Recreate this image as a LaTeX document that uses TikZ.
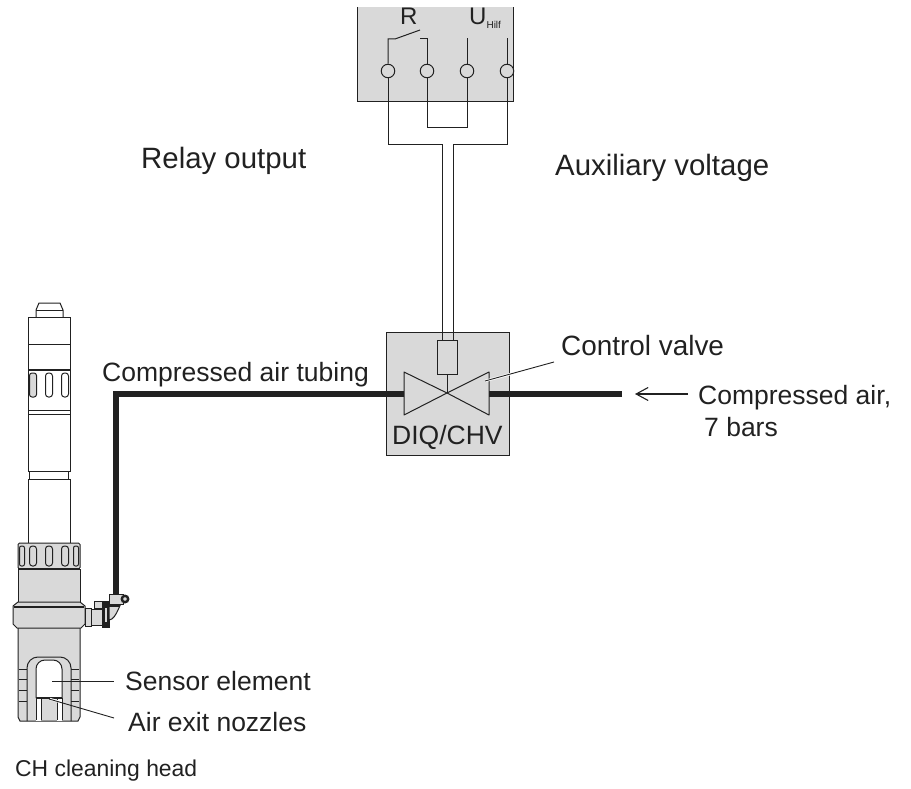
\documentclass[tikz,border=0pt]{standalone}
\usepackage{fontspec}
\setmainfont{Liberation Sans}
\usetikzlibrary{arrows.meta, positioning, calc}
\definecolor{boxgray}{gray}{0.85}
\definecolor{inkgray}{gray}{0.13}
\tikzset{
    label/.style={inner sep=0pt, anchor=base west, font=\fontsize{26.5}{30}\selectfont, text=inkgray},
    biglabel/.style={label, font=\fontsize{29.4}{33}\selectfont},
    wire/.style={draw=inkgray, line width=1pt},
    tube/.style={draw=inkgray, line width=6.5pt},
    part/.style={draw=inkgray, line width=1pt},
    grayed/.style={part, fill=boxgray},
    terminal/.style={circle, draw=inkgray, line width=1pt, fill=boxgray, minimum size=13.5pt, inner sep=0pt},
    leader/.style={draw=inkgray, line width=0.9pt}
}
\begin{document}
\begin{tikzpicture}[x=1pt, y=-1pt]
    \useasboundingbox (0,0) rectangle (911,789);
    % Relay box
    \fill[boxgray] (357,7) rectangle (513,102);
    \draw[part] (357,7) -- (357,102) -- (513,102) -- (513,7);
    \node[terminal] (t1) at (388,71) {};
    \node[terminal] (t2) at (427,71) {};
    \node[terminal] (t3) at (467,71) {};
    \node[terminal] (t4) at (507,71) {};
    \node[label, font=\fontsize{24}{28}\selectfont] (relay) at (400,25) {R};
    \node[label, font=\fontsize{24}{28}\selectfont] (uhilf) at (469,25) {U\raisebox{-4pt}{\fontsize{10}{11}\selectfont Hilf}};
    % Contacts
    \draw[wire] (t1) -- (388,39) -- (395,39) -- (420,30);
    \draw[wire] (t2) -- (427,39) -- (420,39);
    \draw[wire] (t3) -- (467,38);
    \draw[wire] (t4) -- (507,38);
    % Valve box
    \node[draw=inkgray, line width=1pt, fill=boxgray, minimum width=123pt, minimum height=123pt, inner sep=0pt] (valvebox) at (447.5,393.5) {};
    \node[draw=inkgray, line width=1pt, minimum width=20pt, minimum height=34pt, inner sep=0pt] (coil) at (447,357) {};
    \coordinate (valvemid) at (447,393);
    \draw[part, line join=round] (valvemid) -- (404,372) -- (404,415) -- cycle;
    \draw[part, line join=round] (valvemid) -- (489,372) -- (489,415) -- cycle;
    \draw[wire] (coil) -- (valvemid);
    \node[label] (chv) at (392,444) {DIQ/CHV};
    % Wires between boxes
    \draw[wire] (t1) -- (388,145) -- (442,145) -- (442,340);
    \draw[wire] (t4) -- (507,145) -- (453,145) -- (453,340);
    \draw[wire] (t2) -- (427,128) -- (467,128) -- (t3);
    % Air tubing
    \draw[tube] (622,394) -- (489,394);
    \draw[tube] (404,394) -- (116,394) -- (116,596);
    % Sensor shaft
    \draw[part] (36,317) -- (36,310) -- (39,303) -- (60,303) -- (63,310) -- (63,317);
    \draw[part] (36,310) -- (63,310);
    \draw[part] (28,317) rectangle (70,471);
    \draw[part] (29.5,471) rectangle (68.5,479);
    \draw[part] (28,479) rectangle (70,543);
    \draw[part] (28,344) -- (70,344);
    \draw[part, line width=1.6pt] (28,370) -- (70,370);
    \foreach \ox in {49,65} {
        \draw[part, rounded corners=3pt] (\ox-3.5,373) rectangle (\ox+3.5,397);
    }
    \draw[grayed, rounded corners=2.5pt] (29.5,373) rectangle (36.5,397);
    \draw[part] (28,410) -- (70,410);
    \draw[part] (28,414) -- (70,414);
    % Sensor head
    \draw[grayed, rounded corners=1.5pt] (18,543) rectangle (80,569);
    \foreach \ox in {33,49,65} {
        \draw[part, rounded corners=3pt] (\ox-3.5,546) rectangle (\ox+3.5,566);
    }
    \draw[part, rounded corners=2pt] (19.5,546) rectangle (24.5,566);
    \draw[part, rounded corners=2pt] (73.5,546) rectangle (78.5,566);
    \draw[grayed] (18,569) rectangle (80,602);
    \draw[part, line width=1.6pt] (18,569) -- (80,569);
    \draw[grayed] (18,628) -- (18,717) -- (20,721) -- (78,721) -- (80,717) -- (80,628);
    \draw[grayed] (18,602) -- (80,602) -- (85,606) -- (85,624) -- (81,628) -- (17,628) -- (13,624) -- (13,606) -- cycle;
    \draw[part, line width=1.4pt] (14,607) -- (84,607);
    % Fork
    \foreach \oy in {669,679,690,701} {
        \draw[part] (19,\oy) -- (27,\oy);
        \draw[part] (71,\oy) -- (79,\oy);
    }
    \draw[part, rounded corners=11pt] (27,721) -- (27,657) -- (71,657) -- (71,721);
    \fill[white] (36,697) rectangle (41,721);
    \fill[white] (57,697) rectangle (62,721);
    \draw[part] (36,698) -- (36,720);
    \draw[part] (62,698) -- (62,720);
    \draw[part] (41,698) -- (41,720);
    \draw[part] (57,698) -- (57,720);
    \draw[part, fill=white, rounded corners=9pt] (36,698) -- (36,660) -- (62,660) -- (62,698);
    \draw[part, line width=1.4pt] (36,698) -- (62,698);
    % Air fitting
    \draw[grayed] (85,608) rectangle (91,626);
    \draw[grayed] (91,609) rectangle (102,625);
    \draw[part, fill=boxgray] (94,601) rectangle (103,608);
    \draw[part, fill=inkgray] (102.5,601) rectangle (109,627);
    \fill[boxgray] (104.5,608) rectangle (107,622);
    \draw[grayed] (109,604) -- (122,604) to[out=90, in=0] (109,620) -- cycle;
    \draw[grayed] (109,594) rectangle (123,604);
    \draw[part, line width=2pt] (109,606) -- (120,606);
    \draw[part, fill=boxgray, line width=2.4pt] (125,599) circle (3.2pt);
    % Labels
    \node[biglabel] (relayout) at (141,169) {Relay output};
    \node[biglabel] (auxvolt) at (555,176) {Auxiliary voltage};
    \node[label] (tubing) at (102,381) {Compressed air tubing};
    \node[label, font=\fontsize{27.9}{32}\selectfont] (ctrl) at (561,355) {Control valve};
    \node[label] (air) at (698,404) {Compressed air,};
    \node[label] (bars) at (704,436) {7 bars};
    \node[label] (elem) at (125,690) {Sensor element};
    \node[label] (nozz) at (128,731) {Air exit nozzles};
    \node[label, font=\fontsize{22.9}{26}\selectfont] (chead) at (15,776) {CH cleaning head};
    % Leaders
    \coordinate (ctrltip) at (485,381);
    \draw[white, line width=2.4pt] (ctrltip) -- (511,374);
    \draw[leader] (ctrltip) -- (554,362);
    \draw[leader, line width=1.1pt, -{Straight Barb[length=12pt, width=13pt]}] (688,394) -- (635,394);
    \draw[leader] (52,681) -- (114,681);
    \draw[white, line width=2.4pt] (50,699) -- (60,702);
    \draw[leader] (49,699) -- (114,718);
\end{tikzpicture}
\end{document}
